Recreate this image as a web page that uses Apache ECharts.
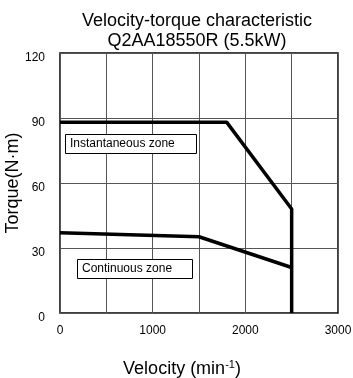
<!DOCTYPE html>
<html><head><meta charset="utf-8">
<script src="https://cdn.jsdelivr.net/npm/echarts@6/dist/echarts.min.js"></script>
<style>html,body{margin:0;padding:0;background:#fff}#c{width:353px;height:378px}</style>
</head><body><div id="c"></div>
<script>
var titleLines = ['Velocity-torque characteristic', 'Q2AA18550R (5.5kW)'];
var xTicks = [0, 1000, 2000, 3000];
var instantaneous = [[0, 88], [1800, 88], [2500, 48], [2500, 0]];
var continuous = [[0, 37], [1500, 35.2], [2500, 21]];
var zoneLabels = ['Instantaneous zone', 'Continuous zone'];

var chart = echarts.init(document.getElementById('c'));
var font = 'Arial, "Liberation Sans", sans-serif';
chart.setOption({
  animation: false,
  backgroundColor: '#fff',
  title: {
    text: titleLines.join('\n'),
    left: 192, top: 6, textAlign: 'center',
    textStyle: {fontFamily: font, fontSize: 18, fontWeight: 'normal', color: '#000', lineHeight: 20}
  },
  grid: {left: 60, right: 15, top: 53, bottom: 65, show: true, borderColor: '#000', borderWidth: 1.5,
    containLabel: false, outerBoundsMode: 'none'},
  xAxis: {
    type: 'value', min: 0, max: 3000, interval: 500,
    axisLine: {show: false}, axisTick: {show: false},
    splitLine: {show: true, lineStyle: {color: '#555', width: 1}},
    axisLabel: {
      margin: 12, fontFamily: font, fontSize: 12, color: '#000',
      formatter: function (v) { return xTicks.indexOf(v) >= 0 ? String(v) : ''; }
    },
    name: 'Velocity (min{s|-1})', nameLocation: 'middle', nameGap: 46, nameMoveOverlap: false,
    nameTextStyle: {fontFamily: font, fontSize: 18, color: '#000', padding: [0, 34, 0, 0],
      rich: {s: {fontFamily: font, fontSize: 11, verticalAlign: 'top', padding: [0, 0, 9, 0], color: '#000'}}}
  },
  yAxis: {
    type: 'value', min: 0, max: 120, interval: 30,
    axisLine: {show: false}, axisTick: {show: false},
    splitLine: {show: true, lineStyle: {color: '#555', width: 1}},
    axisLabel: {margin: 15, fontFamily: font, fontSize: 12, color: '#000', verticalAlign: 'top', lineHeight: 9},
    name: 'Torque(N·m)', nameLocation: 'middle', nameGap: 38, nameMoveOverlap: false,
    nameTextStyle: {fontFamily: font, fontSize: 18, color: '#000'}
  },
  series: [
    {type: 'line', data: instantaneous, showSymbol: false, lineStyle: {color: '#000', width: 3.5}, z: 5},
    {type: 'line', data: continuous, showSymbol: false, lineStyle: {color: '#000', width: 3.5}, z: 5}
  ],
  graphic: [
    {type: 'rect', shape: {x: 65.5, y: 134.5, width: 131, height: 19}, style: {fill: '#fff', stroke: '#000', lineWidth: 1}, z: 10},
    {type: 'text', x: 70, y: 144, style: {text: zoneLabels[0], font: '12px ' + font, fill: '#000', textVerticalAlign: 'middle'}, z: 11},
    {type: 'rect', shape: {x: 77.5, y: 259.5, width: 115, height: 19}, style: {fill: '#fff', stroke: '#000', lineWidth: 1}, z: 10},
    {type: 'text', x: 82, y: 269, style: {text: zoneLabels[1], font: '12px ' + font, fill: '#000', textVerticalAlign: 'middle'}, z: 11}
  ]
});
</script></body></html>
